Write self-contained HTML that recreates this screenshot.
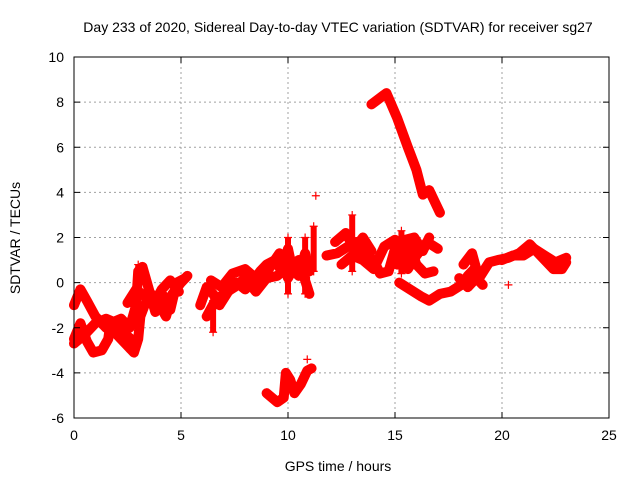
<!DOCTYPE html>
<html><head><meta charset="utf-8"><style>
body{margin:0;background:#fff}
svg{display:block;font-family:"Liberation Sans",sans-serif}
</style></head><body>
<svg id="c" width="640" height="480">
<rect width="640" height="480" fill="#fff"/>
<g id="grid"></g>
<g id="marks"></g>
<g id="axes"></g>
<text x="338" y="32" text-anchor="middle" font-size="14">Day 233 of 2020, Sidereal Day-to-day VTEC variation (SDTVAR) for receiver sg27</text>
<text x="338" y="471" text-anchor="middle" font-size="14">GPS time / hours</text>
<text transform="translate(20,238) rotate(-90)" text-anchor="middle" font-size="14">SDTVAR / TECUs</text>
</svg>
<script>
const xTicks=[0,5,10,15,20,25];
const yTicks=[-6,-4,-2,0,2,4,6,8,10];
const track1=[[0,-1],[0.3,-0.3],[0.6,-0.8],[1,-1.5],[1.5,-2],[2,-2.3],[2.5,-2.8],[2.8,-3.1],[3,-2.5],[3.1,-1.5],[3.3,-1],[3.6,-0.5],[4,-1],[4.3,-1.5],[4.6,-0.5],[5,0],[5.3,0.3]];
const track2=[[0,-2.5],[0.3,-1.8],[0.6,-2.6],[0.9,-3.1],[1.3,-3],[1.6,-2.5],[1.7,-1.8],[2.2,-1.6],[2.6,-2],[2.9,-1],[3,0.5],[3.2,0.7],[3.5,-0.3],[3.8,-1.3],[4.2,-0.6],[4.5,-1.2],[4.8,0],[5.2,0.2]];
const track3=[[0,-2.7],[0.5,-2.3],[1,-1.8],[1.5,-1.6],[2,-1.8],[2.4,-2.3],[2.8,-2.6]];
const track4=[[2.5,-0.9],[2.9,-0.3],[3.3,-0.6],[3.7,-1.0],[4.1,-0.3],[4.5,0.1],[4.9,-0.4]];
const mid1=[[5.9,-1],[6.2,-0.2],[6.5,-0.5],[6.8,-1],[7.2,-0.4],[7.6,0],[8,-0.3],[8.3,0],[8.7,0.5],[9,0.8],[9.4,1],[9.7,0.5],[10,1.5],[10.2,0.6],[10.5,0.3],[10.8,1.3],[11,0.5]];
const mid2=[[6.2,-1.5],[6.6,-0.8],[7,-0.5],[7.5,-0.2],[8,0.2],[8.5,-0.4],[9,0.2],[9.5,0.3],[10,0.7],[10.5,1],[11,-0.5]];
const mid3=[[6.4,0.1],[6.9,-0.2],[7.4,0.4],[8,0.6],[8.6,0.1],[9.1,0.6],[9.6,1.3],[10,0.2],[10.4,0.9],[10.8,0.2]];
const low=[[9,-4.9],[9.5,-5.3],[9.8,-5.1],[9.9,-4],[10.1,-4.3],[10.3,-4.9],[10.6,-4.5],[10.9,-3.9],[11.1,-3.8]];
const right1=[[11.8,1.2],[12.3,1.3],[12.8,1.6],[13.2,1.8],[13.6,1.2],[14,1],[14.3,0.4],[14.7,0.5],[15,1.5],[15.3,1.8],[15.7,1.6],[16,0.8],[16.4,0.4],[16.8,0.5]];
const right2=[[12.5,0.8],[13,1.2],[13.5,1],[14,0.6],[14.5,1.6],[15,1.9],[15.4,1.2],[15.6,0.6],[16,1.2],[16.5,1.8],[17,1.5]];
const right3=[[12.2,1.8],[12.7,2.2],[13.1,1.5],[13.5,2.0],[13.9,1.4]];
const right4=[[15.1,0.8],[15.5,1.9],[15.9,2.0],[16.3,1.4],[16.6,2.0]];
const lowRight=[[15.2,0],[15.7,-0.3],[16.2,-0.6],[16.6,-0.8],[17.1,-0.5],[17.6,-0.4],[18.1,-0.1],[18.4,0.3],[18.7,0.6],[19,0.3],[19.4,0.9],[19.8,1],[20.3,1.1],[20.8,1.3],[21.3,1.7],[21.7,1.3],[22,1],[22.4,0.6],[22.8,0.6],[23,0.9]];
const lowRight2=[[18.0,0.2],[18.4,-0.2],[18.8,0.2],[19.1,-0.1]];
const upRight=[[18.2,0.8],[18.6,1.3],[18.8,0.6]];
const upRight2=[[20,1],[20.5,1.2],[21,1.2],[21.5,1.5],[22,1.2],[22.5,0.9],[23,1.1]];
const high=[[13.9,7.9],[14.6,8.4],[15.1,7.3],[15.6,6],[16,5],[16.3,3.9],[16.6,4.1],[17.1,3.1]];
const spikes=[[[3.0,-0.5],[3.0,0.8]],[[10.0,-0.5],[10.0,2.0]],[[10.8,-0.5],[10.8,2.0]],[[11.2,0.5],[11.2,2.5]],[[13.0,0.5],[13.0,3.0]],[[15.3,0.4],[15.3,2.3]],[[6.5,-2.2],[6.5,-0.8]]];
const lone=[[11.3,3.85],[20.3,-0.1],[10.9,-3.4]];
const X0=74,X1=609,Y0=418,Y1=57;
const sx=v=>X0+(v-0)/25*(X1-X0);
const sy=v=>Y0-(v+6)/16*(Y0-Y1);
const NS='http://www.w3.org/2000/svg';
function mk(t,a,p){const e=document.createElementNS(NS,t);for(const k in a)e.setAttribute(k,a[k]);p.appendChild(e);return e;}
const grid=document.getElementById('grid'),axes=document.getElementById('axes'),marks=document.getElementById('marks');
xTicks.forEach(t=>{const x=sx(t);
 if(t>0&&t<25){const l=mk('line',{x1:x,x2:x,y1:Y1,y2:Y0,stroke:'#a0a0a0','stroke-dasharray':'2,3'},grid);}
 mk('line',{x1:x,x2:x,y1:Y0,y2:Y0-6,stroke:'#000'},axes);mk('line',{x1:x,x2:x,y1:Y1,y2:Y1+6,stroke:'#000'},axes);
 const tx=mk('text',{x:x,y:Y0+22,'text-anchor':'middle','font-size':14},axes);tx.textContent=t;
 });
yTicks.forEach(t=>{const y=sy(t);
 if(t>-6&&t<10){const l=mk('line',{x1:X0,x2:X1,y1:y,y2:y,stroke:'#a0a0a0','stroke-dasharray':'2,3'},grid);}
 mk('line',{x1:X0,x2:X0+6,y1:y,y2:y,stroke:'#000'},axes);mk('line',{x1:X1,x2:X1-6,y1:y,y2:y,stroke:'#000'},axes);
 const tx=mk('text',{x:X0-10,y:y+5,'text-anchor':'end','font-size':14},axes);tx.textContent=t;
 });
const frame=mk('rect',{x:X0,y:Y1,width:X1-X0,height:Y0-Y1,fill:'none',stroke:'#000'},axes);

const series=[track1,track2,track3,track4,mid1,mid2,mid3,low,right1,right2,right3,right4,lowRight,lowRight2,upRight,upRight2,high];
series.forEach(s=>{
 const pl=mk('polyline',{points:s.map(p=>sx(p[0])+','+sy(p[1])).join(' '),fill:'none',stroke:'#f00','stroke-width':10,'stroke-linejoin':'round','stroke-linecap':'round'},marks);
 
});
spikes.forEach(s=>{
 const pl=mk('polyline',{points:s.map(p=>sx(p[0])+','+sy(p[1])).join(' '),fill:'none',stroke:'#f00','stroke-width':6},marks);
 
});
series.concat(spikes,[lone]).forEach(s=>s.forEach(p=>{
 const x=sx(p[0]),y=sy(p[1]);
 const m=mk('path',{d:`M${x-4},${y}h8M${x},${y-4}v8`,stroke:'#f00','stroke-width':1.2},marks);
 
}));
</script>
</body></html>
